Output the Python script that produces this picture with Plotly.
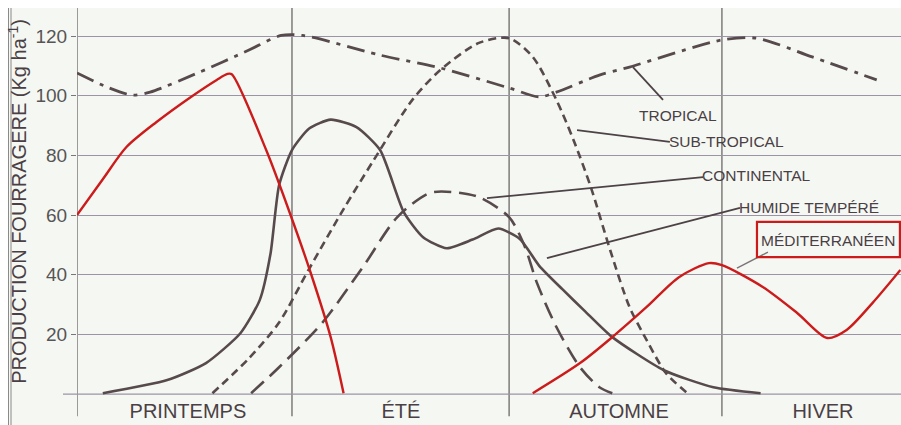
import plotly.graph_objects as go

# ---------------- data (x: season units, 0 = start of spring; y: kg/ha) ----------------
seasons = ["PRINTEMPS", "ÉTÉ", "AUTOMNE", "HIVER"]
season_centers = [0.516, 1.507, 2.521, 3.47]
season_bounds = [0.0, 1.0, 2.01, 3.0]
y_ticks = [20, 40, 60, 80, 100, 120]

trop_x = [0.0, 0.15, 0.26, 0.34, 0.57, 0.80, 0.95, 1.05, 1.41, 1.69, 2.01, 2.15, 2.23, 2.43, 2.57, 3.0, 3.16, 3.42, 3.72]
trop_y = [107.6, 102.6, 100.2, 101.2, 107.9, 115.3, 120.2, 120.2, 113.6, 109.3, 102.6, 99.6, 101.2, 106.9, 109.6, 118.7, 119.3, 113.0, 105.3]

subt_x = [0.63, 0.80, 0.94, 1.08, 1.24, 1.38, 1.56, 1.69, 1.87, 2.01, 2.12, 2.23, 2.31, 2.39, 2.48, 2.57, 2.65, 2.74, 2.84]
subt_y = [0.3, 12.0, 24.0, 42.0, 62.0, 78.4, 98.6, 108.6, 117.7, 119.3, 113.0, 98.6, 85.1, 69.4, 48.3, 29.2, 18.1, 7.0, 0.3]

cont_x = [0.81, 0.94, 1.14, 1.33, 1.49, 1.64, 1.75, 1.87, 2.01, 2.08, 2.14, 2.23, 2.34, 2.43, 2.49]
cont_y = [0.3, 9.0, 23.8, 42.6, 59.3, 67.4, 67.7, 66.0, 59.3, 50.0, 37.2, 22.5, 9.0, 2.3, 0.3]

hum_x = [0.12, 0.42, 0.60, 0.76, 0.85, 0.90, 0.94, 1.0, 1.08, 1.18, 1.30, 1.41, 1.52, 1.61, 1.72, 1.84, 1.96, 2.06, 2.15, 2.26, 2.36, 2.49, 2.73, 2.96, 3.18]
hum_y = [0.3, 4.7, 10.4, 20.4, 31.5, 47.0, 70.0, 81.8, 89.0, 92.0, 89.5, 81.8, 61.0, 52.6, 48.9, 51.8, 55.5, 52.0, 43.0, 35.0, 28.0, 19.1, 8.0, 2.3, 0.3]

med1_x = [0.0, 0.12, 0.23, 0.37, 0.53, 0.65, 0.70, 0.72, 0.88, 0.99, 1.09, 1.18, 1.24]
med1_y = [60.0, 72.0, 82.8, 91.2, 99.6, 105.3, 107.3, 107.2, 81.8, 60.7, 40.0, 19.1, 0.3]
med2_x = [2.12, 2.34, 2.49, 2.65, 2.80, 2.94, 3.0, 3.19, 3.35, 3.49, 3.58, 3.70, 3.83]
med2_y = [0.3, 10.4, 19.1, 29.2, 39.2, 43.9, 43.2, 35.9, 27.2, 18.8, 21.5, 30.5, 41.6]

labels = ["TROPICAL", "SUB-TROPICAL", "CONTINENTAL", "HUMIDE TEMPÉRÉ", "MÉDITERRANÉEN"]
label_x = [2.795, 3.023, 3.163, 3.405, 3.493]
label_y = [93.5, 84.5, 73.4, 62.7, 51.6]
# leader lines: (curve point) -> (label end)
lead_x0 = [2.586, 2.326, 1.907, 2.186, 3.07]
lead_y0 = [109.6, 88.5, 65.7, 45.6, 42.2]
lead_x1 = [2.726, 2.758, 2.912, 3.084, 3.214]
lead_y1 = [98.6, 84.5, 72.7, 62.4, 47.6]

# ---------------- styles ----------------
INK = "#574a4c"
RED = "#cc1b1b"
TXT = "#4a3f44"
BG = "#f5f7f3"
GRID = "#9c93a6"
VLINE = "#6b6868"
FONT = "Liberation Sans, Arial, sans-serif"
PW = 824  # plot width in px

fig = go.Figure()

def add(x, y, dash, color=INK, width=2.6, smooth=0.8):
    fig.add_trace(go.Scatter(x=x, y=y, mode="lines",
                             line=dict(color=color, width=width, dash=dash, shape="spline", smoothing=smooth),
                             hoverinfo="skip", showlegend=False))

add(trop_x, trop_y, "18px,7px,4px,7px", width=2.8)
add(subt_x, subt_y, "8px,5px")
add(cont_x, cont_y, "17px,8px")
add(hum_x, hum_y, "solid", smooth=0.6)
add(med1_x, med1_y, "solid", RED, 2.4)
add(med2_x, med2_y, "solid", RED, 2.4)

shapes = []
# white page margins on left and top
shapes.append(dict(type="rect", xref="paper", yref="paper", x0=-77/PW, x1=-68/PW, y0=-1, y1=2,
                   fillcolor="white", line=dict(width=0), layer="below"))
shapes.append(dict(type="rect", xref="paper", yref="paper", x0=-1, x1=2, y0=1, y1=1.1,
                   fillcolor="white", line=dict(width=0), layer="below"))
for xp in (-68.5/PW, -66/PW):
    shapes.append(dict(type="line", xref="paper", yref="paper", x0=xp, x1=xp, y0=-0.1, y1=1.0,
                       line=dict(color="#8a8a8a", width=1)))
# season boundaries (extend below the axis)
for b in season_bounds:
    shapes.append(dict(type="line", xref="x", yref="paper", x0=b, x1=b, y0=-0.055, y1=1.0,
                       line=dict(color=VLINE, width=1.3), layer="below"))
# base line, extending a little left of the y axis
shapes.append(dict(type="line", xref="paper", yref="y", x0=-14/PW, x1=1, y0=0, y1=0,
                   line=dict(color=GRID, width=1.4), layer="below"))
# leader lines
for i in range(len(labels)):
    shapes.append(dict(type="line", xref="x", yref="y",
                       x0=lead_x0[i], y0=lead_y0[i], x1=lead_x1[i], y1=lead_y1[i],
                       line=dict(color="#4d4246" if i < 4 else "#7a7476", width=1.8 if i < 4 else 1.4)))
# red box around MÉDITERRANÉEN
shapes.append(dict(type="rect", xref="x", yref="y", x0=3.163, x1=3.828, y0=45.9, y1=57.7,
                   line=dict(color=RED, width=2.2), fillcolor="rgba(0,0,0,0)"))

annotations = []
for i, t in enumerate(labels):
    annotations.append(dict(x=label_x[i], y=label_y[i], xref="x", yref="y", text=t, showarrow=False,
                            font=dict(family=FONT, size=15.5, color=TXT), xanchor="center", yanchor="middle"))

fig.update_layout(
    width=901, height=425,
    margin=dict(l=77, r=0, t=8, b=30, autoexpand=False),
    paper_bgcolor=BG, plot_bgcolor=BG,
    shapes=shapes, annotations=annotations,
    font=dict(family=FONT, color=TXT),
    xaxis=dict(range=[0, 3.833], tickvals=season_centers, ticktext=seasons, showgrid=False,
               zeroline=False, showline=False, ticks="", tickfont=dict(size=20, color=TXT),
               ticklabelstandoff=2, automargin=False, fixedrange=True),
    yaxis=dict(range=[-0.3, 129.4], tickvals=y_ticks, showgrid=True, gridcolor=GRID, gridwidth=1.3,
               zeroline=False, showline=False, ticks="outside", ticklen=5, tickcolor="#777",
               tickfont=dict(size=19, color="#555"),
               title=dict(text="PRODUCTION FOURRAGERE (Kg ha<sup>-1</sup>)",
                          font=dict(size=20, color=TXT), standoff=3),
               automargin=False, fixedrange=True),
)

fig.write_html("out.html", config={"displayModeBar": False},
               post_script="document.body.style.margin='0';document.body.style.overflow='hidden';")
